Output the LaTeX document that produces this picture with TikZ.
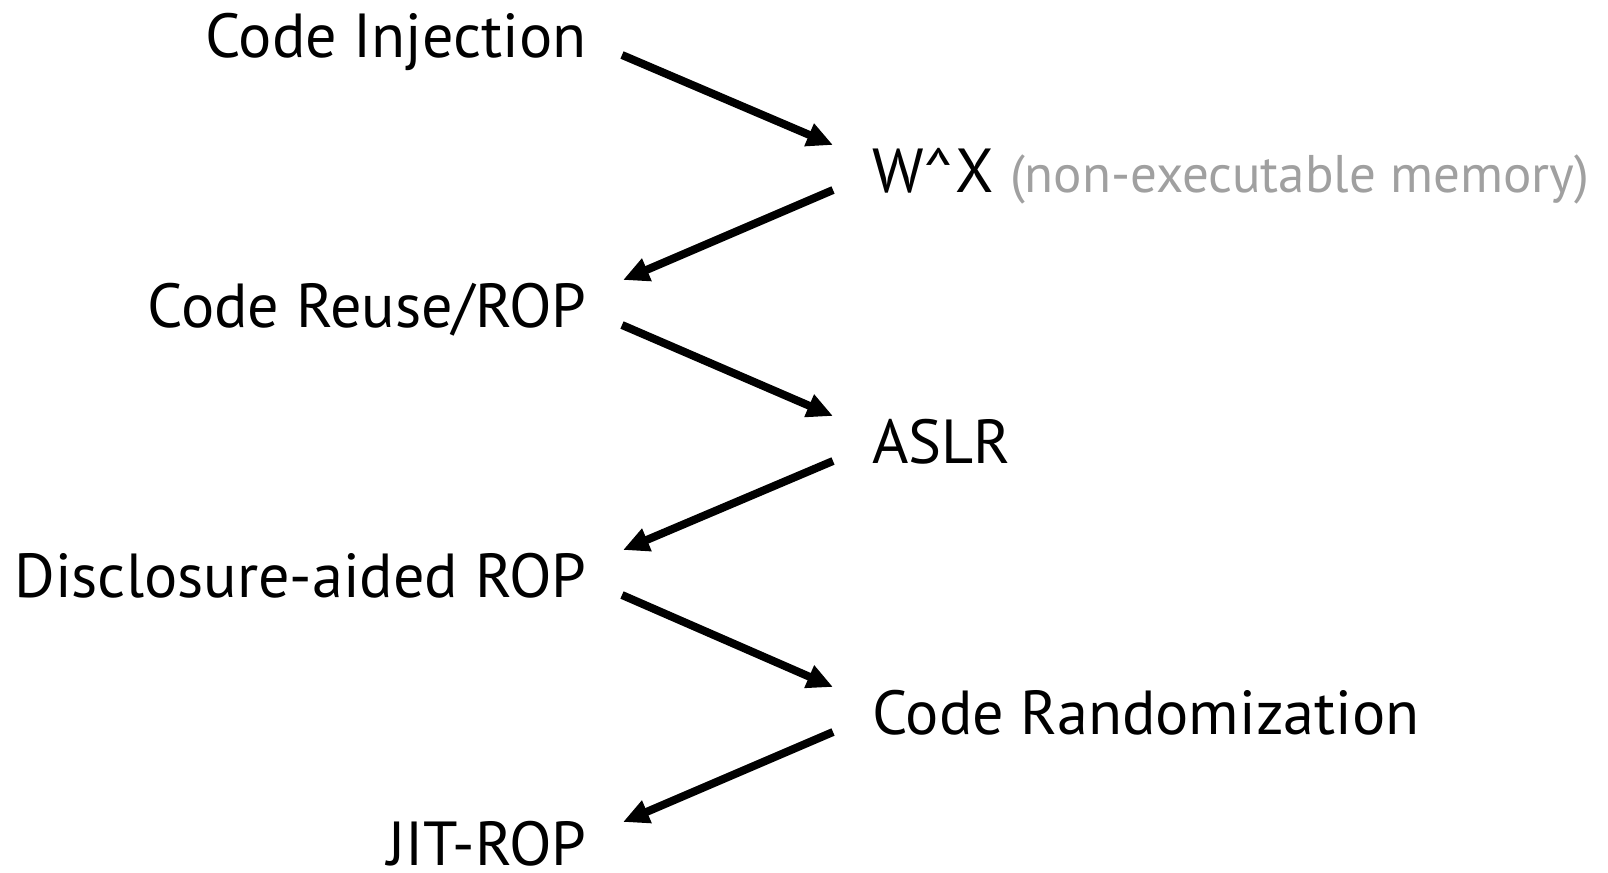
\documentclass[tikz,border=0pt]{standalone}
\usepackage{fontspec}
\setmainfont{PT Sans}
\usetikzlibrary{arrows.meta}
\definecolor{notegray}{RGB}{160,160,160}
\begin{document}
\begin{tikzpicture}[x=0.5pt,y=-0.5pt,
  lbl/.style={inner sep=0pt, font=\fontsize{31.1pt}{36pt}\selectfont},
  lft/.style={lbl, anchor=base east},
  rgt/.style={lbl, anchor=base west},
  arr/.style={line width=4pt, -{Triangle[length=13pt,width=11.5pt]}}]
\useasboundingbox (0,0) rectangle (1608,873);
\node[lft] (ci) at (587,57) {Code Injection};
\node[rgt] (wx) at (872,192) {W\textasciicircum X {\color{notegray}\fontsize{26.5pt}{32pt}\selectfont(non-executable memory)}};
\node[lft] (cr) at (587,327) {Code Reuse/ROP};
\node[rgt] (aslr) at (872,463) {ASLR};
\node[lft] (dr) at (587,597) {Disclosure-aided ROP};
\node[rgt] (rand) at (872,734) {Code Randomization};
\node[lft] (jit) at (587,865) {JIT-ROP};
\draw[arr] ([xshift=17.5pt,yshift=1pt]ci.base east) -- ([xshift=-19.5pt,yshift=23.5pt]wx.base west);
\draw[arr] ([xshift=-19.5pt,yshift=1pt]wx.base west) -- ([xshift=18pt,yshift=23.5pt]cr.base east);
\draw[arr] ([xshift=17.5pt,yshift=1pt]cr.base east) -- ([xshift=-19.5pt,yshift=23.5pt]aslr.base west);
\draw[arr] ([xshift=-19.5pt,yshift=1pt]aslr.base west) -- ([xshift=18pt,yshift=23.5pt]dr.base east);
\draw[arr] ([xshift=17.5pt,yshift=1pt]dr.base east) -- ([xshift=-19.5pt,yshift=23.5pt]rand.base west);
\draw[arr] ([xshift=-19.5pt,yshift=1pt]rand.base west) -- ([xshift=18pt,yshift=21.5pt]jit.base east);
\end{tikzpicture}
\end{document}
